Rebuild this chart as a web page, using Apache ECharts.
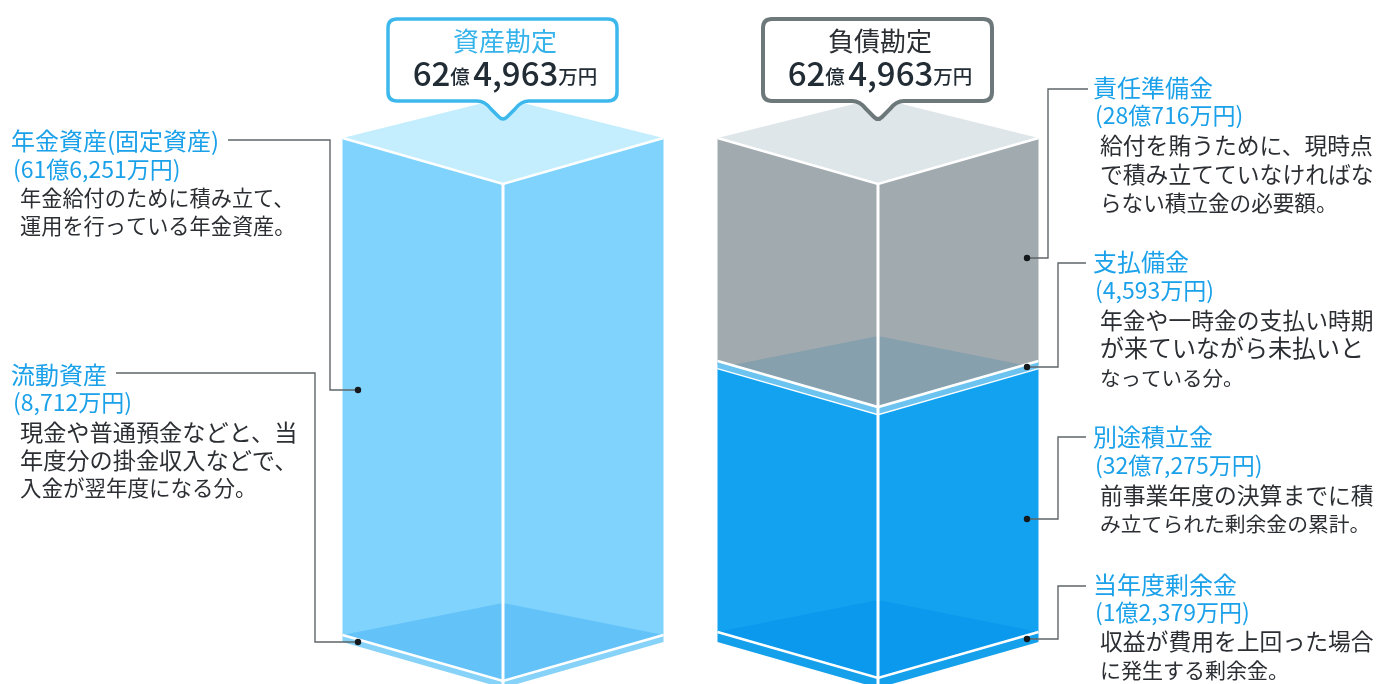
<!DOCTYPE html>
<html lang="ja">
<head>
<meta charset="utf-8">
<title>資産勘定と負債勘定</title>
<script src="https://cdn.jsdelivr.net/npm/echarts@6/dist/echarts.min.js"></script>
<style>
html,body{margin:0;padding:0;background:#fff}
#chart{width:1376px;height:684px}
</style>
</head>
<body>
<div id="chart"></div>
<script>
// Balance-sheet items, in 万円
const accounts = ['資産勘定', '負債勘定'];
const accountTotals = [624963, 624963];
const assetNames = ['年金資産(固定資産)', '流動資産'];
const assetValues = [616251, 8712];
const liabilityNames = ['責任準備金', '支払備金', '別途積立金', '当年度剰余金'];
const liabilityValues = [280716, 4593, 327275, 12379];

// Running total below each item, liabilities stack from the bottom up
const stackBase = function (values, order) {
  const base = [];
  let sum = 0;
  order.forEach(function (i) { base[i] = sum; sum += values[i]; });
  return base;
};
const assetBase = stackBase(assetValues, [1, 0]);
const liabilityBase = stackBase(liabilityValues, [3, 2, 1, 0]);

// Colours of each block slice: faces, shade cast on the slice above, top face
const paint = {
  '年金資産(固定資産)': { face: '#7fd3fd', lid: '#c4eefe' },
  '流動資産': { face: '#86d2f9', shade: '#63c2f8' },
  '責任準備金': { face: '#a1abaf', lid: '#dfe6e9' },
  '支払備金': { face: '#6cc3f0' },
  '別途積立金': { face: '#12a2f0', shade: '#86a0ad' },
  '当年度剰余金': { face: '#14a0ea', shade: '#0a99ec' }
};

// Drawing order: upper slice first, so a lower slice can shade it; thin bands last
const slices = [
  [0, assetNames[0], assetBase[0], assetValues[0]],
  [0, assetNames[1], assetBase[1], assetValues[1]],
  [1, liabilityNames[0], liabilityBase[0], liabilityValues[0]],
  [1, liabilityNames[2], liabilityBase[2], liabilityValues[2]],
  [1, liabilityNames[1], liabilityBase[1], liabilityValues[1]],
  [1, liabilityNames[3], liabilityBase[3], liabilityValues[3]]
];

// Side labels: heading, amount, description lines
const callouts = [
  { head: assetNames[0], amount: '(61億6,251万円)', body: ['年金給付のために積み立て、', '運用を行っている年金資産。'] },
  { head: assetNames[1], amount: '(8,712万円)', body: ['現金や普通預金などと、当', '年度分の掛金収入などで、', '入金が翌年度になる分。'] },
  { head: liabilityNames[0], amount: '(28億716万円)', body: ['給付を賄うために、現時点', 'で積み立てていなければな', 'らない積立金の必要額。'] },
  { head: liabilityNames[1], amount: '(4,593万円)', body: ['年金や一時金の支払い時期', 'が来ていながら未払いと', 'なっている分。'] },
  { head: liabilityNames[2], amount: '(32億7,275万円)', body: ['前事業年度の決算までに積', 'み立てられた剰余金の累計。'] },
  { head: liabilityNames[3], amount: '(1億2,379万円)', body: ['収益が費用を上回った場合', 'に発生する剰余金。'] }
];

// Label placement and leader routes
const calloutLayout = [
  { x: 11, amountX: 13, bodyX: 20, head: 141, amount: 169, body: [198, 226], size: 24, bodySize: [21.2, 21.2], route: [[228, 140], [330, 140], [330, 390], [358, 390]] },
  { x: 11, amountX: 13, bodyX: 20, head: 375, amount: 402, body: [432, 460, 488], size: 24, bodySize: [23.2, 23.2, 21.5], route: [[116, 373], [315, 373], [315, 642], [358, 642]] },
  { x: 1093, amountX: 1095, bodyX: 1100, head: 88, amount: 115, body: [145, 174, 203], size: 24, bodySize: [22.8, 22.8, 21.6], route: [[1088, 89], [1048, 89], [1048, 258], [1027, 258]] },
  { x: 1093, amountX: 1095, bodyX: 1100, head: 262, amount: 290, body: [320, 348, 378], size: 24, bodySize: [22.8, 24, 20.5], route: [[1086, 263], [1058, 263], [1058, 367], [1027, 367]] },
  { x: 1093, amountX: 1095, bodyX: 1100, head: 437, amount: 465, body: [495, 524], size: 24, bodySize: [22.8, 20.8], route: [[1086, 437], [1058, 437], [1058, 519], [1027, 519]] },
  { x: 1093, amountX: 1095, bodyX: 1100, head: 585, amount: 612, body: [641, 670], size: 24, bodySize: [22.8, 21], route: [[1086, 586], [1058, 586], [1058, 639], [1027, 639]] }
];

const CJK = '"Noto Sans CJK JP","Noto Sans",sans-serif';
const BLUE = '#1ba1e9';
const INK = '#2b2f33';
const DROP = 46;      // how far the front corner sits below the side corners
const LID_RISE = 40;  // back corner of the top face
const SHADE_RISE = 32; // back corner of a slice's top seen through the slice above
const MIN_BAND = 7;   // thinnest slice that is still legible between its white edges

function renderSlice(params, api) {
  const block = api.value(0);
  const name = slices[params.dataIndex][1];
  const style = paint[name];
  const base = api.value(2);
  const value = api.value(3);
  const cx = api.coord([block, 0])[0];
  const half = api.size([1, 0])[0] * 0.428;
  const yLow = api.coord([block, base])[1];
  const yHigh = Math.min(api.coord([block, base + value])[1], yLow - MIN_BAND);
  const xL = cx - half, xR = cx + half;
  const kids = [];
  const poly = function (points, fill) {
    kids.push({ type: 'polygon', shape: { points: points }, style: { fill: fill } });
  };
  const line = function (points, width) {
    kids.push({ type: 'polyline', shape: { points: points }, style: { stroke: '#fff', lineWidth: width, fill: 'none' } });
  };
  poly([[xL, yHigh], [cx, yHigh + DROP], [cx, yLow + DROP], [xL, yLow]], style.face);
  poly([[cx, yHigh + DROP], [xR, yHigh], [xR, yLow], [cx, yLow + DROP]], style.face);
  if (style.lid) {
    poly([[xL, yHigh], [cx, yHigh - LID_RISE], [xR, yHigh], [cx, yHigh + DROP]], style.lid);
  }
  if (style.shade) {
    poly([[xL, yHigh], [cx, yHigh - SHADE_RISE], [xR, yHigh], [cx, yHigh + DROP]], style.shade);
  }
  line([[cx, style.shade ? yHigh - SHADE_RISE : yHigh + DROP], [cx, yLow + DROP]], 3);
  line([[xL, yHigh], [cx, yHigh + DROP], [xR, yHigh]], 2.6);
  return { type: 'group', children: kids };
}

function renderBubble(params, api) {
  const block = api.value(0);
  const cx = api.coord([block, 0])[0];
  const t = 19, b = 101, l = cx - 115, r = cx + 114;
  const d = 'M' + (l + 9) + ' ' + t + 'H' + (r - 9) + 'Q' + r + ' ' + t + ' ' + r + ' ' + (t + 9) +
    'V' + (b - 9) + 'Q' + r + ' ' + b + ' ' + (r - 9) + ' ' + b + 'H' + (cx + 26) +
    'Q' + (cx + 18) + ' ' + b + ' ' + (cx + 12) + ' ' + (b + 8) + 'L' + (cx + 4) + ' ' + (b + 16) +
    'Q' + cx + ' ' + (b + 20) + ' ' + (cx - 4) + ' ' + (b + 16) + 'L' + (cx - 12) + ' ' + (b + 8) +
    'Q' + (cx - 18) + ' ' + b + ' ' + (cx - 26) + ' ' + b + 'H' + (l + 9) +
    'Q' + l + ' ' + b + ' ' + l + ' ' + (b - 9) + 'V' + (t + 9) + 'Q' + l + ' ' + t + ' ' + (l + 9) + ' ' + t + 'Z';
  return {
    type: 'path',
    shape: { pathData: d },
    style: { fill: '#fff', stroke: block === 0 ? '#3db8ec' : '#6d787b', lineWidth: block === 0 ? 3.5 : 4 }
  };
}

// Text and leaders
const texts = [];
function addText(str, x, y, size, fill, extra) {
  texts.push({
    type: 'text', z: 20,
    style: Object.assign({
      text: str, x: x, y: y, fill: fill,
      font: size + 'px ' + CJK, textAlign: 'left', textVerticalAlign: 'middle'
    }, extra || {})
  });
}
callouts.forEach(function (c, i) {
  const p = calloutLayout[i];
  addText(c.head, p.x, p.head, p.size, BLUE);
  addText(c.amount, p.amountX, p.amount, 23, BLUE);
  c.body.forEach(function (row, j) { addText(row, p.bodyX, p.body[j], p.bodySize[j], INK); });
  texts.push({
    type: 'polyline', z: 19,
    shape: { points: p.route },
    style: { stroke: '#5f6568', lineWidth: 1.4, fill: 'none' }
  });
  const end = p.route[p.route.length - 1];
  texts.push({ type: 'circle', z: 19, shape: { cx: end[0], cy: end[1], r: 3.2 }, style: { fill: '#16191b' } });
});

// Bubble captions: account name and total
const totalText = function (v) {
  const oku = Math.floor(v / 10000);
  const man = String(v % 10000).replace(/\B(?=(\d{3})+$)/g, ',');
  return '{n|' + oku + '}{u|億} {n|' + man + '}{u|万円}';
};
const bubbleCentres = [503, 878];
accounts.forEach(function (name, i) {
  addText(name, bubbleCentres[i] + 2, 41, 26, i === 0 ? '#35b3ea' : INK, { textAlign: 'center' });
  texts.push({
    type: 'text', z: 20,
    style: {
      text: totalText(accountTotals[i]), x: bubbleCentres[i] + 2, y: 73, textAlign: 'center', textVerticalAlign: 'middle',
      rich: {
        n: { font: '500 33px ' + CJK, fill: '#222c35', verticalAlign: 'bottom' },
        u: { font: '500 19.5px ' + CJK, fill: '#222c35', verticalAlign: 'bottom', padding: [0, 0, 3, 0] }
      }
    }
  });
});

const chart = echarts.init(document.getElementById('chart'));
chart.setOption({
  animation: false,
  backgroundColor: '#fff',
  grid: { left: 315.5, width: 750, top: 138, height: 504 },
  xAxis: { type: 'category', data: accounts, show: false },
  yAxis: { type: 'value', min: 0, max: accountTotals[0], show: false, splitLine: { show: false } },
  graphic: texts,
  series: [
    {
      type: 'custom',
      coordinateSystem: 'cartesian2d',
      renderItem: renderSlice,
      clip: false,
      data: slices,
      silent: true
    },
    {
      type: 'custom',
      coordinateSystem: 'cartesian2d',
      renderItem: renderBubble,
      clip: false,
      z: 10,
      data: accounts.map(function (a, i) { return [i, accountTotals[i]]; }),
      silent: true
    }
  ]
});
</script>
</body>
</html>
